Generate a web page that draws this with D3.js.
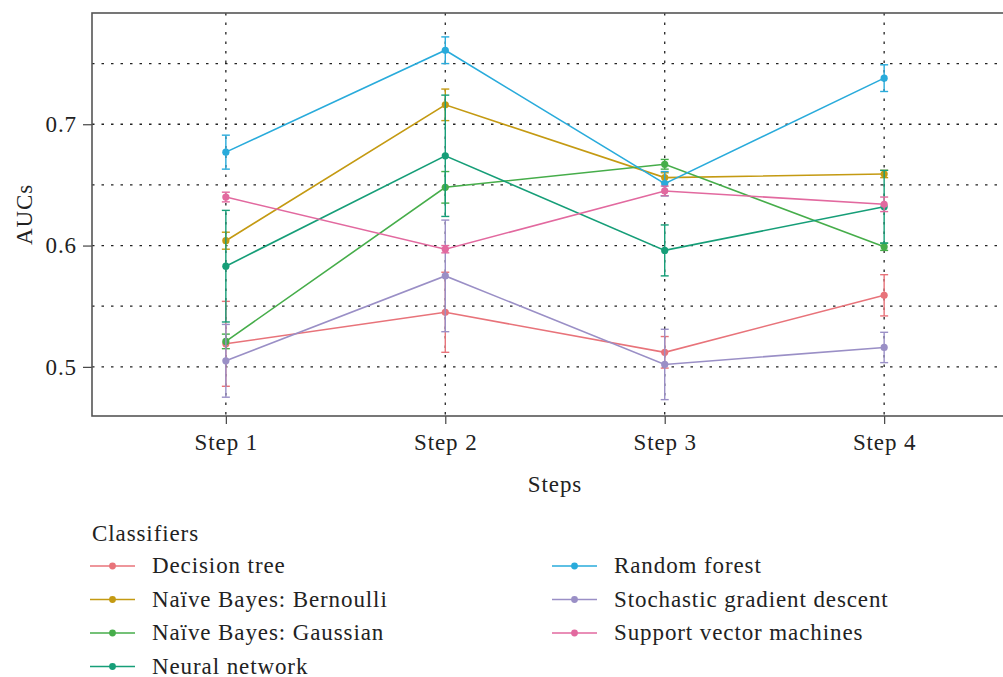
<!DOCTYPE html>
<html>
<head>
<meta charset="utf-8">
<script src="https://cdn.jsdelivr.net/npm/d3@7"></script>
<style>
  body { margin: 0; background: #fff; }
  svg text { font-family: "Liberation Serif", "Times New Roman", serif; fill: #222; letter-spacing: 0.9px; }
</style>
</head>
<body>
<svg id="chart" width="1003" height="677"></svg>
<script>
const steps = ['Step 1', 'Step 2', 'Step 3', 'Step 4'];
const classifiers = [
    'Decision tree',
    'Naïve Bayes: Bernoulli',
    'Naïve Bayes: Gaussian',
    'Neural network',
    'Random forest',
    'Stochastic gradient descent',
    'Support vector machines',
];
const colors = ['#e8737a', '#c49a12', '#46ad4a', '#169e78', '#29abdb', '#9a8fc6', '#e2699f'];

// mean AUC per step, one array per classifier
const decisionTree = [0.519, 0.545, 0.512, 0.559];
const bernoulli = [0.604, 0.716, 0.656, 0.659];
const gaussian = [0.521, 0.648, 0.667, 0.599];
const neuralNet = [0.583, 0.674, 0.596, 0.632];
const randomForest = [0.677, 0.761, 0.651, 0.738];
const sgd = [0.505, 0.575, 0.502, 0.516];
const svm = [0.640, 0.597, 0.645, 0.634];

// half width of the error bars
const decisionTreeErr = [0.035, 0.033, 0.013, 0.017];
const bernoulliErr = [0.007, 0.013, 0.004, 0.003];
const gaussianErr = [0.006, 0.013, 0.004, 0.003];
const neuralNetErr = [0.046, 0.05, 0.021, 0.03];
const randomForestErr = [0.014, 0.011, 0.01, 0.011];
const sgdErr = [0.03, 0.046, 0.029, 0.0125];
const svmErr = [0.004, 0.003, 0.004, 0.006];

const yTicks = [0.5, 0.6, 0.7];
const yMinor = [0.55, 0.65, 0.75];

const means = [decisionTree, bernoulli, gaussian, neuralNet, randomForest, sgd, svm];
const errs = [decisionTreeErr, bernoulliErr, gaussianErr, neuralNetErr, randomForestErr, sgdErr, svmErr];

const series = classifiers.map((name, i) => ({
    name,
    color: colors[i],
    values: steps.map((s, j) => ({ step: s, y: means[i][j], e: errs[i][j] })),
}));

const plot = { left: 92, top: 13, right: 1018, bottom: 416 };
const svg = d3.select('#chart');

const x = d3.scalePoint().domain(steps).range([plot.left, plot.right]).padding(0.61);
const y = d3.scaleLinear().domain([0.4595, 0.7917]).range([plot.bottom, plot.top]);

// grid
const grid = svg.append('g').attr('stroke', '#222').attr('stroke-width', 1.3)
    .attr('stroke-dasharray', '2.5,7');
grid.selectAll('.hgrid')
    .data(yTicks.concat(yMinor))
    .enter()
    .append('line')
    .attr('x1', plot.left)
    .attr('x2', plot.right)
    .attr('y1', d => y(d))
    .attr('y2', d => y(d));
grid.selectAll('.vgrid')
    .data(steps)
    .enter()
    .append('line')
    .attr('x1', d => x(d))
    .attr('x2', d => x(d))
    .attr('y1', plot.top)
    .attr('y2', plot.bottom);

// axes
const yAxis = d3.axisLeft(y).tickValues(yTicks).tickSize(9).tickPadding(6).tickFormat(d3.format('.1f'));
svg.append('g')
    .attr('transform', `translate(${plot.left},0)`)
    .call(yAxis)
    .call(g => g.select('.domain').remove())
    .call(g => g.selectAll('line').attr('stroke', '#444').attr('stroke-width', 1.2))
    .call(g => g.selectAll('text').attr('font-size', 23).attr('font-family', 'Liberation Serif').attr('fill', '#222'));

const xAxis = d3.axisBottom(x).tickSize(8).tickPadding(10);
svg.append('g')
    .attr('transform', `translate(0,${plot.bottom})`)
    .call(xAxis)
    .call(g => g.select('.domain').remove())
    .call(g => g.selectAll('line').attr('stroke', '#444').attr('stroke-width', 1.2))
    .call(g => g.selectAll('text').attr('font-size', 23).attr('font-family', 'Liberation Serif').attr('fill', '#222'));

svg.append('rect')
    .attr('x', plot.left)
    .attr('y', plot.top)
    .attr('width', plot.right - plot.left)
    .attr('height', plot.bottom - plot.top)
    .attr('fill', 'none')
    .attr('stroke', '#555')
    .attr('stroke-width', 1.6);

svg.append('text')
    .attr('transform', `translate(32,${(plot.top + plot.bottom) / 2}) rotate(-90)`)
    .attr('text-anchor', 'middle')
    .attr('font-size', 23)
    .text('AUCs');

svg.append('text')
    .attr('x', x('Step 2') + (x('Step 3') - x('Step 2')) / 2)
    .attr('y', 492)
    .attr('text-anchor', 'middle')
    .attr('font-size', 23)
    .text('Steps');

// series
const line = d3.line().x(d => x(d.step)).y(d => y(d.y));
const sg = svg.selectAll('.series')
    .data(series)
    .enter()
    .append('g')
    .classed('series', true)
    .attr('stroke', d => d.color)
    .attr('fill', d => d.color);

sg.append('path')
    .attr('d', d => line(d.values))
    .attr('fill', 'none')
    .attr('stroke-width', 1.6);

const bars = sg.selectAll('.err')
    .data(d => d.values)
    .enter()
    .append('g')
    .attr('stroke-width', 1.4);
bars.append('line')
    .attr('x1', d => x(d.step)).attr('x2', d => x(d.step))
    .attr('y1', d => y(d.y - d.e)).attr('y2', d => y(d.y + d.e));
bars.append('line')
    .attr('x1', d => x(d.step) - 4).attr('x2', d => x(d.step) + 4)
    .attr('y1', d => y(d.y + d.e)).attr('y2', d => y(d.y + d.e));
bars.append('line')
    .attr('x1', d => x(d.step) - 4).attr('x2', d => x(d.step) + 4)
    .attr('y1', d => y(d.y - d.e)).attr('y2', d => y(d.y - d.e));

sg.selectAll('circle')
    .data(d => d.values)
    .enter()
    .append('circle')
    .attr('cx', d => x(d.step))
    .attr('cy', d => y(d.y))
    .attr('r', 3.6)
    .attr('stroke', 'none');

// legend
svg.append('text')
    .attr('x', 92)
    .attr('y', 541)
    .attr('font-size', 23)
    .text('Classifiers');

const legend = svg.selectAll('.key')
    .data(series)
    .enter()
    .append('g')
    .classed('key', true)
    .attr('transform', (d, i) => i < 4
        ? `translate(90,${566 + i * 33.5})`
        : `translate(552,${566 + (i - 4) * 33.5})`);

legend.append('line')
    .attr('x1', 0).attr('x2', 45)
    .attr('stroke', d => d.color)
    .attr('stroke-width', 1.6);
legend.append('circle')
    .attr('cx', 22.5)
    .attr('r', 3.4)
    .attr('fill', d => d.color);
legend.append('text')
    .attr('x', 62)
    .attr('y', 7)
    .attr('font-size', 23)
    .text(d => d.name);
</script>
</body>
</html>
